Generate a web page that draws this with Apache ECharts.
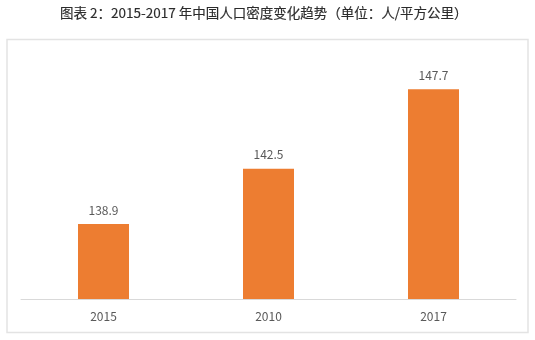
<!DOCTYPE html>
<html>
<head>
<meta charset="utf-8">
<script src="https://cdn.jsdelivr.net/npm/echarts@6/dist/echarts.min.js"></script>
<style>
  html, body { margin: 0; padding: 0; background: #fff; }
  #chart { width: 535px; height: 340px; }
</style>
</head>
<body>
<div id="chart"></div>
<script>
// Population density of China, persons per km²
const categories = ['2015', '2010', '2017'];
const density = [138.9, 142.5, 147.7];
const titleText = '图表 2：2015-2017 年中国人口密度变化趋势（单位：人/平方公里）';

const FONT = '"Noto Sans CJK SC", "Noto Sans", sans-serif';

const chart = echarts.init(document.getElementById('chart'), null, { renderer: 'canvas' });
chart.setOption({
  backgroundColor: '#ffffff',
  animation: false,
  title: {
    text: titleText,
    left: 55,
    top: 1,
    textStyle: { fontFamily: FONT, fontSize: 13.5, fontWeight: 'normal', color: '#2b2b2b', textBorderColor: '#2b2b2b', textBorderWidth: 0.15 }
  },
  graphic: [{
    type: 'rect',
    shape: { x: 7, y: 39.5, width: 521, height: 293 },
    style: { fill: 'none', stroke: '#e3e3e3', lineWidth: 1.5 },
    silent: true,
    z: -1
  }],
  grid: { left: 21, right: 19, top: 54, bottom: 41 },
  xAxis: {
    type: 'category',
    data: categories,
    axisLine: { lineStyle: { color: '#d9d9d9', width: 1 } },
    axisTick: { show: false },
    axisLabel: { color: '#595959', fontFamily: FONT, fontSize: 12, margin: 11 }
  },
  yAxis: {
    type: 'value',
    min: 134,
    max: 150,
    show: false,
    splitLine: { show: false }
  },
  series: [{
    type: 'bar',
    data: density,
    barWidth: 51,
    itemStyle: { color: '#ed7d31' },
    label: {
      show: true,
      position: 'top',
      distance: 8,
      color: '#595959',
      fontFamily: FONT,
      fontSize: 12,
      formatter: p => p.value.toFixed(1)
    }
  }]
});
</script>
</body>
</html>
